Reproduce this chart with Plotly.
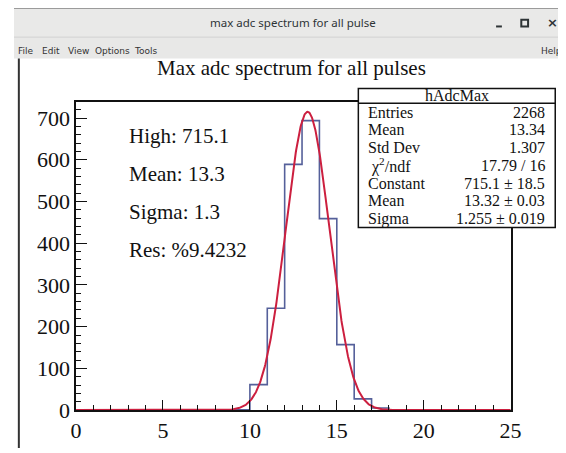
import numpy as np
import plotly.graph_objects as go

W, H = 566, 453

# ---- data ----
bin_edges = list(range(0, 26))
bin_counts = [0, 0, 0, 0, 0, 0, 0, 0, 0, 1, 61, 244, 589, 694, 459, 157, 27, 5, 0, 0, 0, 0, 0, 0, 0]
fit_constant = 715.1
fit_mean = 13.32
fit_sigma = 1.255
x_ticks = [0, 5, 10, 15, 20, 25]
y_ticks = [0, 100, 200, 300, 400, 500, 600, 700]

stats_title = "hAdcMax"
stats_labels = ["Entries", "Mean", "Std Dev", " χ<sup>2</sup>/ndf", "Constant", "Mean", "Sigma"]
stats_values = ["2268", "13.34", "1.307", "17.79 / 16", "715.1 ± 18.5", "13.32 ± 0.03", "1.255 ± 0.019"]
info_lines = ["High: 715.1", "Mean: 13.3", "Sigma: 1.3", "Res: %9.4232"]
menu_items = ["File", "Edit", "View", "Options", "Tools"]

SERIF = "Liberation Serif"
SANS = "DejaVu Sans"


def px(x):
    return x / W


def py(y):
    return 1 - y / H


# frame in pixels
FL, FR, FT, FB = 64, 512, 97, 414

fig = go.Figure()

# histogram step outline
step_y = bin_counts + [bin_counts[-1]]
fig.add_trace(go.Scatter(x=bin_edges, y=step_y, mode="lines", line_shape="hv",
                         line=dict(color="#55609a", width=1.6), hoverinfo="skip"))

# gaussian fit curve from fit parameters
fx = np.linspace(0, 25, 1000)
fy = fit_constant * np.exp(-0.5 * ((fx - fit_mean) / fit_sigma) ** 2)
fig.add_trace(go.Scatter(x=fx, y=fy, mode="lines", line=dict(color="#cc1f3f", width=2),
                         hoverinfo="skip"))

axis_common = dict(showgrid=False, zeroline=False, showline=True, linecolor="#111111",
                   linewidth=1.5, mirror=True, ticks="inside", tickcolor="#111111",
                   tickwidth=1.2, tickfont=dict(family=SERIF, size=22, color="#111111"))

fig.update_layout(
    width=W, height=H, margin=dict(l=0, r=0, t=0, b=0),
    paper_bgcolor="white", plot_bgcolor="white", showlegend=False,
    xaxis=dict(domain=[px(FL), px(FR)], range=[0, 25], tickvals=x_ticks,
               ticktext=[str(v) for v in x_ticks], ticklen=10,
               minor=dict(ticks="inside", dtick=1, ticklen=5, tickcolor="#111111", tickwidth=1.2),
               **axis_common),
    yaxis=dict(domain=[py(FB), py(FT)], range=[0, 738], tickvals=y_ticks,
               ticktext=[str(v) for v in y_ticks], ticklen=11,
               minor=dict(ticks="inside", dtick=20, ticklen=5, tickcolor="#111111", tickwidth=1.2),
               **axis_common),
)

shapes = []
annots = []

# window title bar and menu bar
shapes.append(dict(type="rect", xref="paper", yref="paper", x0=0, x1=1, y0=py(30), y1=1,
                   fillcolor="#e9e9e8", line=dict(width=0), layer="above"))
shapes.append(dict(type="line", xref="paper", yref="paper", x0=0, x1=1, y0=py(0.5), y1=py(0.5),
                   line=dict(color="#9a9a9a", width=1), layer="above"))
shapes.append(dict(type="rect", xref="paper", yref="paper", x0=0, x1=1, y0=py(52), y1=py(30),
                   fillcolor="#e8e8e7", line=dict(width=0), layer="above"))
shapes.append(dict(type="line", xref="paper", yref="paper", x0=0, x1=1, y0=py(30), y1=py(30),
                   line=dict(color="#d0d0d0", width=1), layer="above"))
# canvas left border
shapes.append(dict(type="line", xref="paper", yref="paper", x0=px(5), x1=px(5), y0=0, y1=py(52),
                   line=dict(color="#333333", width=2), layer="above"))

annots.append(dict(text="max adc spectrum for all pulse", x=px(288), y=py(15), xref="paper", yref="paper",
                   showarrow=False, xanchor="center", yanchor="middle",
                   font=dict(family="Noto Sans", size=11.5, color="#2e3436")))
# window buttons
shapes.append(dict(type="line", xref="paper", yref="paper", x0=px(497), x1=px(503), y0=py(19), y1=py(19),
                   line=dict(color="#2e3436", width=2), layer="above"))
shapes.append(dict(type="rect", xref="paper", yref="paper", x0=px(523), x1=px(530), y0=py(19), y1=py(12),
                   line=dict(color="#2e3436", width=2), fillcolor="rgba(0,0,0,0)", layer="above"))
annots.append(dict(text="<b>×</b>", x=px(555), y=py(15), xref="paper", yref="paper",
                   showarrow=False, xanchor="center", yanchor="middle",
                   font=dict(family=SANS, size=13, color="#2e3436")))
for name, xx in zip(menu_items, [2, 27, 54, 81, 122]):
    annots.append(dict(text=name, x=px(xx), y=py(44), xref="paper", yref="paper",
                       showarrow=False, xanchor="left", yanchor="middle",
                       font=dict(family=SANS, size=9, color="#333333")))
annots.append(dict(text="Help", x=px(567), y=py(44), xref="paper", yref="paper",
                   showarrow=False, xanchor="right", yanchor="middle",
                   font=dict(family=SANS, size=9, color="#333333")))

# chart title
annots.append(dict(text="Max adc spectrum for all pulses", x=px(286), y=py(62), xref="paper", yref="paper",
                   showarrow=False, xanchor="center", yanchor="middle",
                   font=dict(family=SERIF, size=21, color="#111111")))

# info text
for i, t in enumerate(info_lines):
    annots.append(dict(text=t, x=px(117), y=py(132 + i * 39), xref="paper", yref="paper",
                       showarrow=False, xanchor="left", yanchor="middle",
                       font=dict(family=SERIF, size=21, color="#111111")))

# stats box
SL, SR, ST, SB, SH = 355, 558, 83, 226, 98
shapes.append(dict(type="rect", xref="paper", yref="paper", x0=px(SL), x1=px(SR), y0=py(SB), y1=py(ST),
                   fillcolor="white", line=dict(color="#111111", width=1.5), layer="above"))
shapes.append(dict(type="line", xref="paper", yref="paper", x0=px(SL), x1=px(SR), y0=py(SH), y1=py(SH),
                   line=dict(color="#111111", width=1.5), layer="above"))
annots.append(dict(text=stats_title, x=px((SL + SR) / 2), y=py((ST + SH) / 2), xref="paper", yref="paper",
                   showarrow=False, xanchor="center", yanchor="middle",
                   font=dict(family=SERIF, size=16, color="#111111")))
row_h = (SB - SH) / len(stats_labels)
for i, (lab, val) in enumerate(zip(stats_labels, stats_values)):
    yy = SH + row_h * (i + 0.5)
    annots.append(dict(text=lab, x=px(SL + 8), y=py(yy), xref="paper", yref="paper",
                       showarrow=False, xanchor="left", yanchor="middle",
                       font=dict(family=SERIF, size=16, color="#111111")))
    annots.append(dict(text=val, x=px(SR - 8), y=py(yy), xref="paper", yref="paper",
                       showarrow=False, xanchor="right", yanchor="middle",
                       font=dict(family=SERIF, size=16, color="#111111")))

fig.update_layout(shapes=shapes, annotations=annots)
fig.write_html("out.html")
